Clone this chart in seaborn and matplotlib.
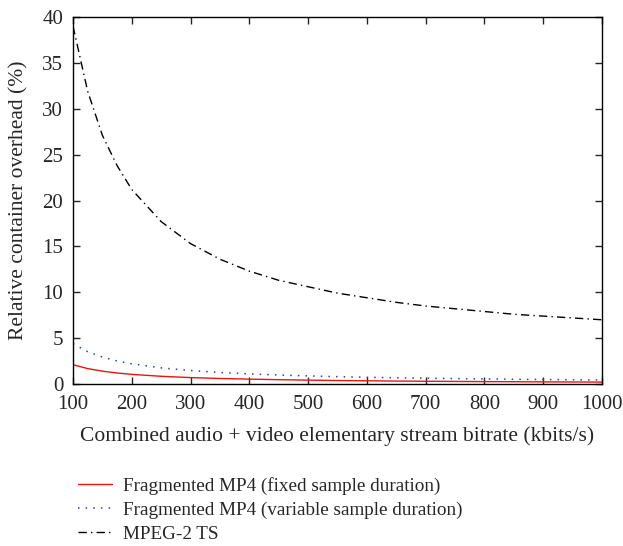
import matplotlib
matplotlib.use("Agg")
import matplotlib.pyplot as plt
import seaborn as sns
import pandas as pd

bitrate = [100, 125, 150, 175, 200, 250, 300, 350, 400, 450, 500, 550, 600,
           650, 700, 750, 800, 850, 900, 950, 1000]
fmp4_fixed = [2.1, 1.68, 1.4, 1.2, 1.05, 0.84, 0.7, 0.6, 0.53, 0.47, 0.42, 0.38,
              0.35, 0.32, 0.30, 0.28, 0.26, 0.25, 0.23, 0.22, 0.21]
fmp4_variable = [4.4, 3.52, 2.93, 2.51, 2.2, 1.76, 1.47, 1.26, 1.1, 0.98, 0.88,
                 0.8, 0.73, 0.68, 0.63, 0.59, 0.55, 0.52, 0.49, 0.46, 0.44]
mpeg2_ts = [39.0, 31.9, 27.1, 23.8, 21.2, 17.7, 15.3, 13.6, 12.3, 11.3, 10.6,
            9.9, 9.4, 8.9, 8.5, 8.2, 7.9, 7.6, 7.4, 7.2, 7.0]
series_names = ["Fragmented MP4 (fixed sample duration)",
                "Fragmented MP4 (variable sample duration)",
                "MPEG-2 TS"]
x_ticks = [100, 200, 300, 400, 500, 600, 700, 800, 900, 1000]
y_ticks = [0, 5, 10, 15, 20, 25, 30, 35, 40]

sns.set_style("ticks")
plt.rcParams['font.family'] = ['Liberation Serif', 'DejaVu Serif']

fig = plt.figure(figsize=(6.23, 5.46), dpi=100)
ax = fig.add_axes([73/623, 1 - 384/546, 529/623, 367/546])

styles = [
    dict(color="#ee1111", linestyle="-", linewidth=1.0),
    dict(color="#2244bb", linestyle=(0, (1, 4)), linewidth=1.1),
    dict(color="black", linestyle=(0, (6, 3, 1, 3)), linewidth=1.0),
]
for name, vals, st in zip(series_names, [fmp4_fixed, fmp4_variable, mpeg2_ts], styles):
    df = pd.DataFrame({"x": bitrate, "y": vals})
    sns.lineplot(data=df, x="x", y="y", ax=ax, label=name, **st)

ax.set_xlim(100, 1000)
ax.set_ylim(0, 40)
ax.set_xticks(x_ticks)
ax.set_yticks(y_ticks)
ax.tick_params(axis="both", direction="in", top=True, right=True, length=5, width=1,
               labelsize=15)
ax.tick_params(axis="x", pad=8)
ax.tick_params(axis="y", pad=7)
for s in ax.spines.values():
    s.set_linewidth(1.0)
    s.set_color("black")
ax.set_xlabel("Combined audio + video elementary stream bitrate (kbits/s)", fontsize=15.5, labelpad=9)
ax.set_ylabel("Relative container overhead (%)", fontsize=15.5, labelpad=10)

leg = ax.legend(loc="upper left", bbox_to_anchor=(-0.005, -0.232), frameon=False,
                fontsize=13.8, handlelength=1.75, handletextpad=0.6, labelspacing=0.35,
                borderaxespad=0)

fig.savefig("out.png", dpi=100)
